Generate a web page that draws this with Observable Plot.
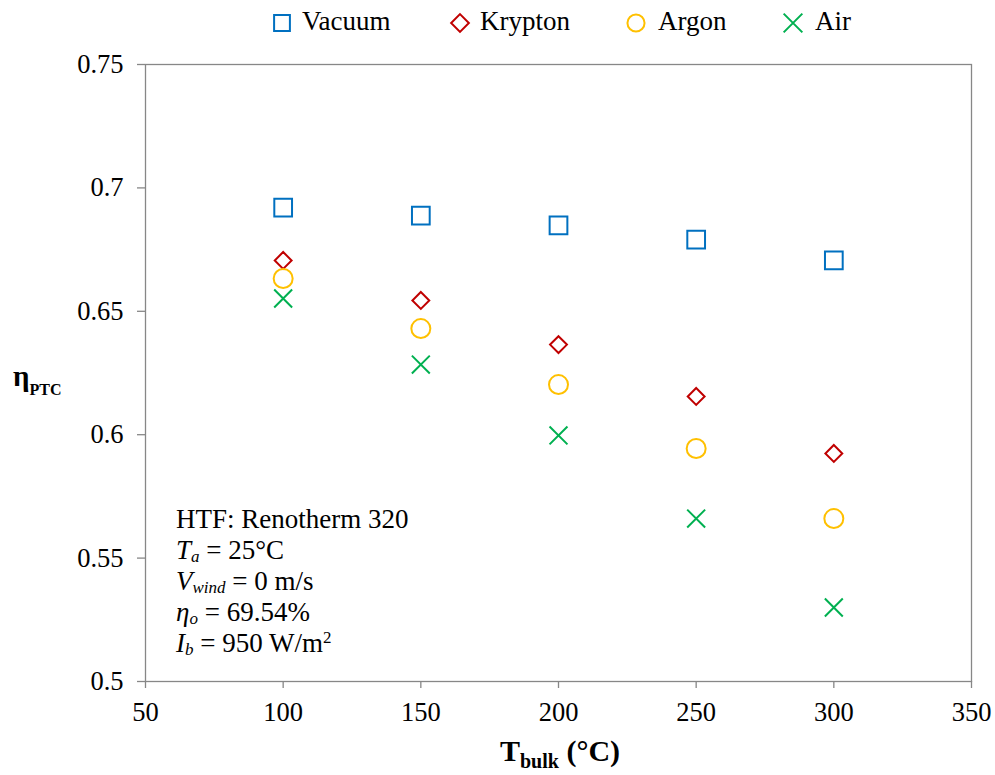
<!DOCTYPE html>
<html><head><meta charset="utf-8">
<script src="https://cdn.jsdelivr.net/npm/d3@7"></script>
<script src="https://cdn.jsdelivr.net/npm/@observablehq/plot@0.6"></script>
<style>
body{margin:0;background:#fff;font-family:"Liberation Serif","Times New Roman",serif;}
#wrap{position:relative;width:995px;height:775px;overflow:hidden;}
#legend{position:absolute;left:0;top:0;width:995px;height:45px;}
#legend .sym{position:absolute;top:12px;}
#legend .txt{position:absolute;top:8px;font-size:27px;line-height:27px;color:#000;white-space:nowrap;}
#chart{position:absolute;left:0;top:45px;}
#note{position:absolute;left:176px;top:504px;font-size:27px;line-height:31px;color:#000;white-space:nowrap;}
#note sub{font-size:17px;vertical-align:-3px;line-height:0;}
#note sup{font-size:17px;vertical-align:9px;line-height:0;}
#ylab{position:absolute;left:13px;top:362px;font-size:29px;line-height:28px;font-weight:bold;white-space:nowrap;}
#ylab sub{font-size:16px;vertical-align:-9px;line-height:0;}
#xlab{position:absolute;left:0;width:1120px;text-align:center;top:736px;font-size:30px;line-height:30px;font-weight:bold;white-space:nowrap;}
#xlab sub{font-size:20px;vertical-align:-7px;line-height:0;}
</style></head>
<body><div id="wrap">
<div id="legend"></div>
<div id="chart"></div>
<div id="note">HTF: Renotherm 320<br><i>T<sub>a</sub></i> = 25°C<br><i>V<sub>wind</sub></i> = 0 m/s<br><i>η<sub>o</sub></i> = 69.54%<br><i>I<sub>b</sub></i> = 950 W/m<sup>2</sup></div>
<div id="ylab">η<sub>PTC</sub></div>
<div id="xlab">T<sub>bulk</sub> (°C)</div>
</div>
<script>
const temps = [100, 150, 200, 250, 300];
const vacuum  = [0.692, 0.6888, 0.6848, 0.679, 0.6706];
const krypton = [0.6706, 0.6544, 0.6365, 0.6155, 0.5924];
const argon   = [0.6633, 0.643, 0.6203, 0.5944, 0.566];
const air     = [0.6552, 0.6284, 0.5997, 0.566, 0.530];
const seriesNames = ["Vacuum", "Krypton", "Argon", "Air"];
const xTicks = [50, 100, 150, 200, 250, 300, 350];
const yTicks = [0.5, 0.55, 0.6, 0.65, 0.7, 0.75];

const colors = {Vacuum:"#0070C0", Krypton:"#C00000", Argon:"#FFC000", Air:"#00B050"};
const symbols = {Vacuum:"square", Krypton:"diamond2", Argon:"circle", Air:"times"};
const radii = {Vacuum:10, Krypton:7.6, Argon:9.5, Air:8.2};
const values = {Vacuum:vacuum, Krypton:krypton, Argon:argon, Air:air};

const data = seriesNames.flatMap(s => temps.map((t,i)=>({series:s, t, eta:values[s][i]})));

const marks = [
  Plot.frame({stroke:"#878787", strokeWidth:1.3}),
  ...seriesNames.map(s => Plot.dot(data.filter(d=>d.series===s), {
    x:"t", y:"eta", symbol:()=>symbols[s], r:radii[s], stroke:colors[s], strokeWidth:2, fill:"none"
  }))
];

const chart = Plot.plot({
  width:995, height:730,
  marginLeft:145, marginRight:24, marginTop:19, marginBottom:94,
  x:{domain:[50,350], ticks:xTicks, tickSize:7, tickPadding:14, label:null, tickFormat:d=>String(d)},
  y:{domain:[0.5,0.75], ticks:yTicks, tickSize:8, tickPadding:14, label:null, tickFormat:d=>String(+d.toFixed(2))},
  symbol:{type:"identity"},
  style:{fontFamily:"Liberation Serif, Times New Roman, serif", fontSize:"26.5px", color:"#000", background:"#fff"},
  marks
});
d3.select(chart).selectAll("[aria-label='x-axis tick'] path, [aria-label='y-axis tick'] path").attr("stroke","#878787").attr("stroke-width",1.3);
document.getElementById("chart").appendChild(chart);

// legend
const legSym = {Vacuum:282, Krypton:460, Argon:636, Air:793};
const legTxt = {Vacuum:302, Krypton:480, Argon:658, Air:815};
const leg = d3.select("#legend");
seriesNames.forEach(s => {
  const svg = leg.append("svg").attr("class","sym").attr("width",22).attr("height",22)
    .style("left",(legSym[s]-11)+"px");
  const sym = {square:d3.symbolSquare, diamond2:d3.symbolDiamond2, circle:d3.symbolCircle, times:d3.symbolTimes}[symbols[s]];
  const size = {Vacuum:250, Krypton:200, Argon:230, Air:230}[s];
  svg.append("path").attr("transform","translate(11,11)").attr("d", d3.symbol(sym, size)())
    .attr("fill","none").attr("stroke",colors[s]).attr("stroke-width",2);
  leg.append("div").attr("class","txt").style("left",legTxt[s]+"px").text(s);
});
</script>
</body></html>
